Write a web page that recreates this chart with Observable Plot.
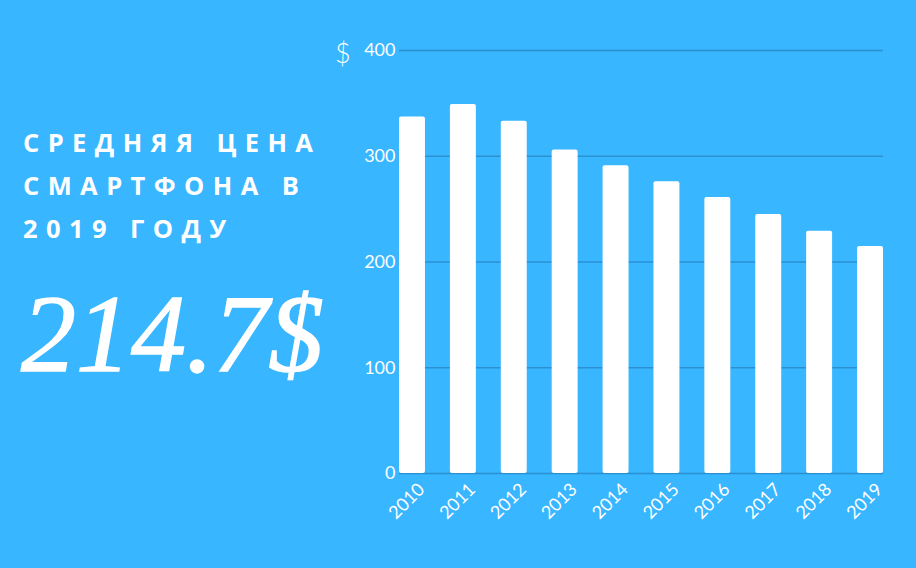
<!DOCTYPE html>
<html>
<head>
<meta charset="utf-8">
<script src="https://cdn.jsdelivr.net/npm/d3@7"></script>
<script src="https://cdn.jsdelivr.net/npm/@observablehq/plot@0.6"></script>
<style>
  html, body { margin: 0; padding: 0; background: #38b6ff; }
  #wrap { position: relative; width: 916px; height: 568px; background: #38b6ff; overflow: hidden; }
  #chart { position: absolute; left: 0; top: 0; }
  #title { position: absolute; left: 23px; top: 121px; color: #fff; font-family: "Open Sans", sans-serif; font-weight: 700; font-size: 25.5px; letter-spacing: 0.33em; line-height: 43px; white-space: nowrap; }
  #big { position: absolute; left: 21px; top: 279px; color: #fff; font-family: "Liberation Serif", serif; font-style: italic; font-size: 110px; line-height: 110px; white-space: nowrap; -webkit-text-stroke: 1.4px #fff; }
  #cur { position: absolute; left: 335px; top: 36px; color: #fff; font-family: Lato, sans-serif; font-weight: 300; font-size: 27px; }
</style>
</head>
<body>
<div id="wrap">
  <div id="chart"></div>
  <div id="title">СРЕДНЯЯ ЦЕНА<br>СМАРТФОНА В<br>2019 ГОДУ</div>
  <div id="big">214.7$</div>
  <div id="cur">$</div>
</div>
<script>
const years = ["2010","2011","2012","2013","2014","2015","2016","2017","2018","2019"];
const prices = [337, 349, 333, 306, 291, 276, 261, 245, 229, 214.7];
const yTicks = [0, 100, 200, 300, 400];

const data = years.map((y, i) => ({year: y, price: prices[i]}));

const chart = Plot.plot({
  width: 916,
  height: 568,
  marginLeft: 399,
  marginRight: 33,
  marginTop: 50,
  marginBottom: 95,
  style: {background: "transparent", color: "#fff", fontFamily: "Lato, sans-serif", fontSize: "18px"},
  x: {domain: years, paddingInner: 0.49, paddingOuter: 0.0001, round: false, label: null},
  y: {domain: [0, 400], label: null},
  marks: [
    Plot.ruleY(yTicks, {stroke: "#2b8fd0", strokeWidth: 1.5}),
    Plot.barY(data, {x: "year", y: "price", fill: "#fff", rx: 2}),
    Plot.axisY({ticks: yTicks, tickSize: 0, tickPadding: 4, fontSize: 18, fill: "#fff"}),
    Plot.axisX({tickSize: 0, tickRotate: -45, tickPadding: 13, dx: 9, fontSize: 18, fill: "#fff"})
  ]
});
document.getElementById("chart").appendChild(chart);
</script>
</body>
</html>
